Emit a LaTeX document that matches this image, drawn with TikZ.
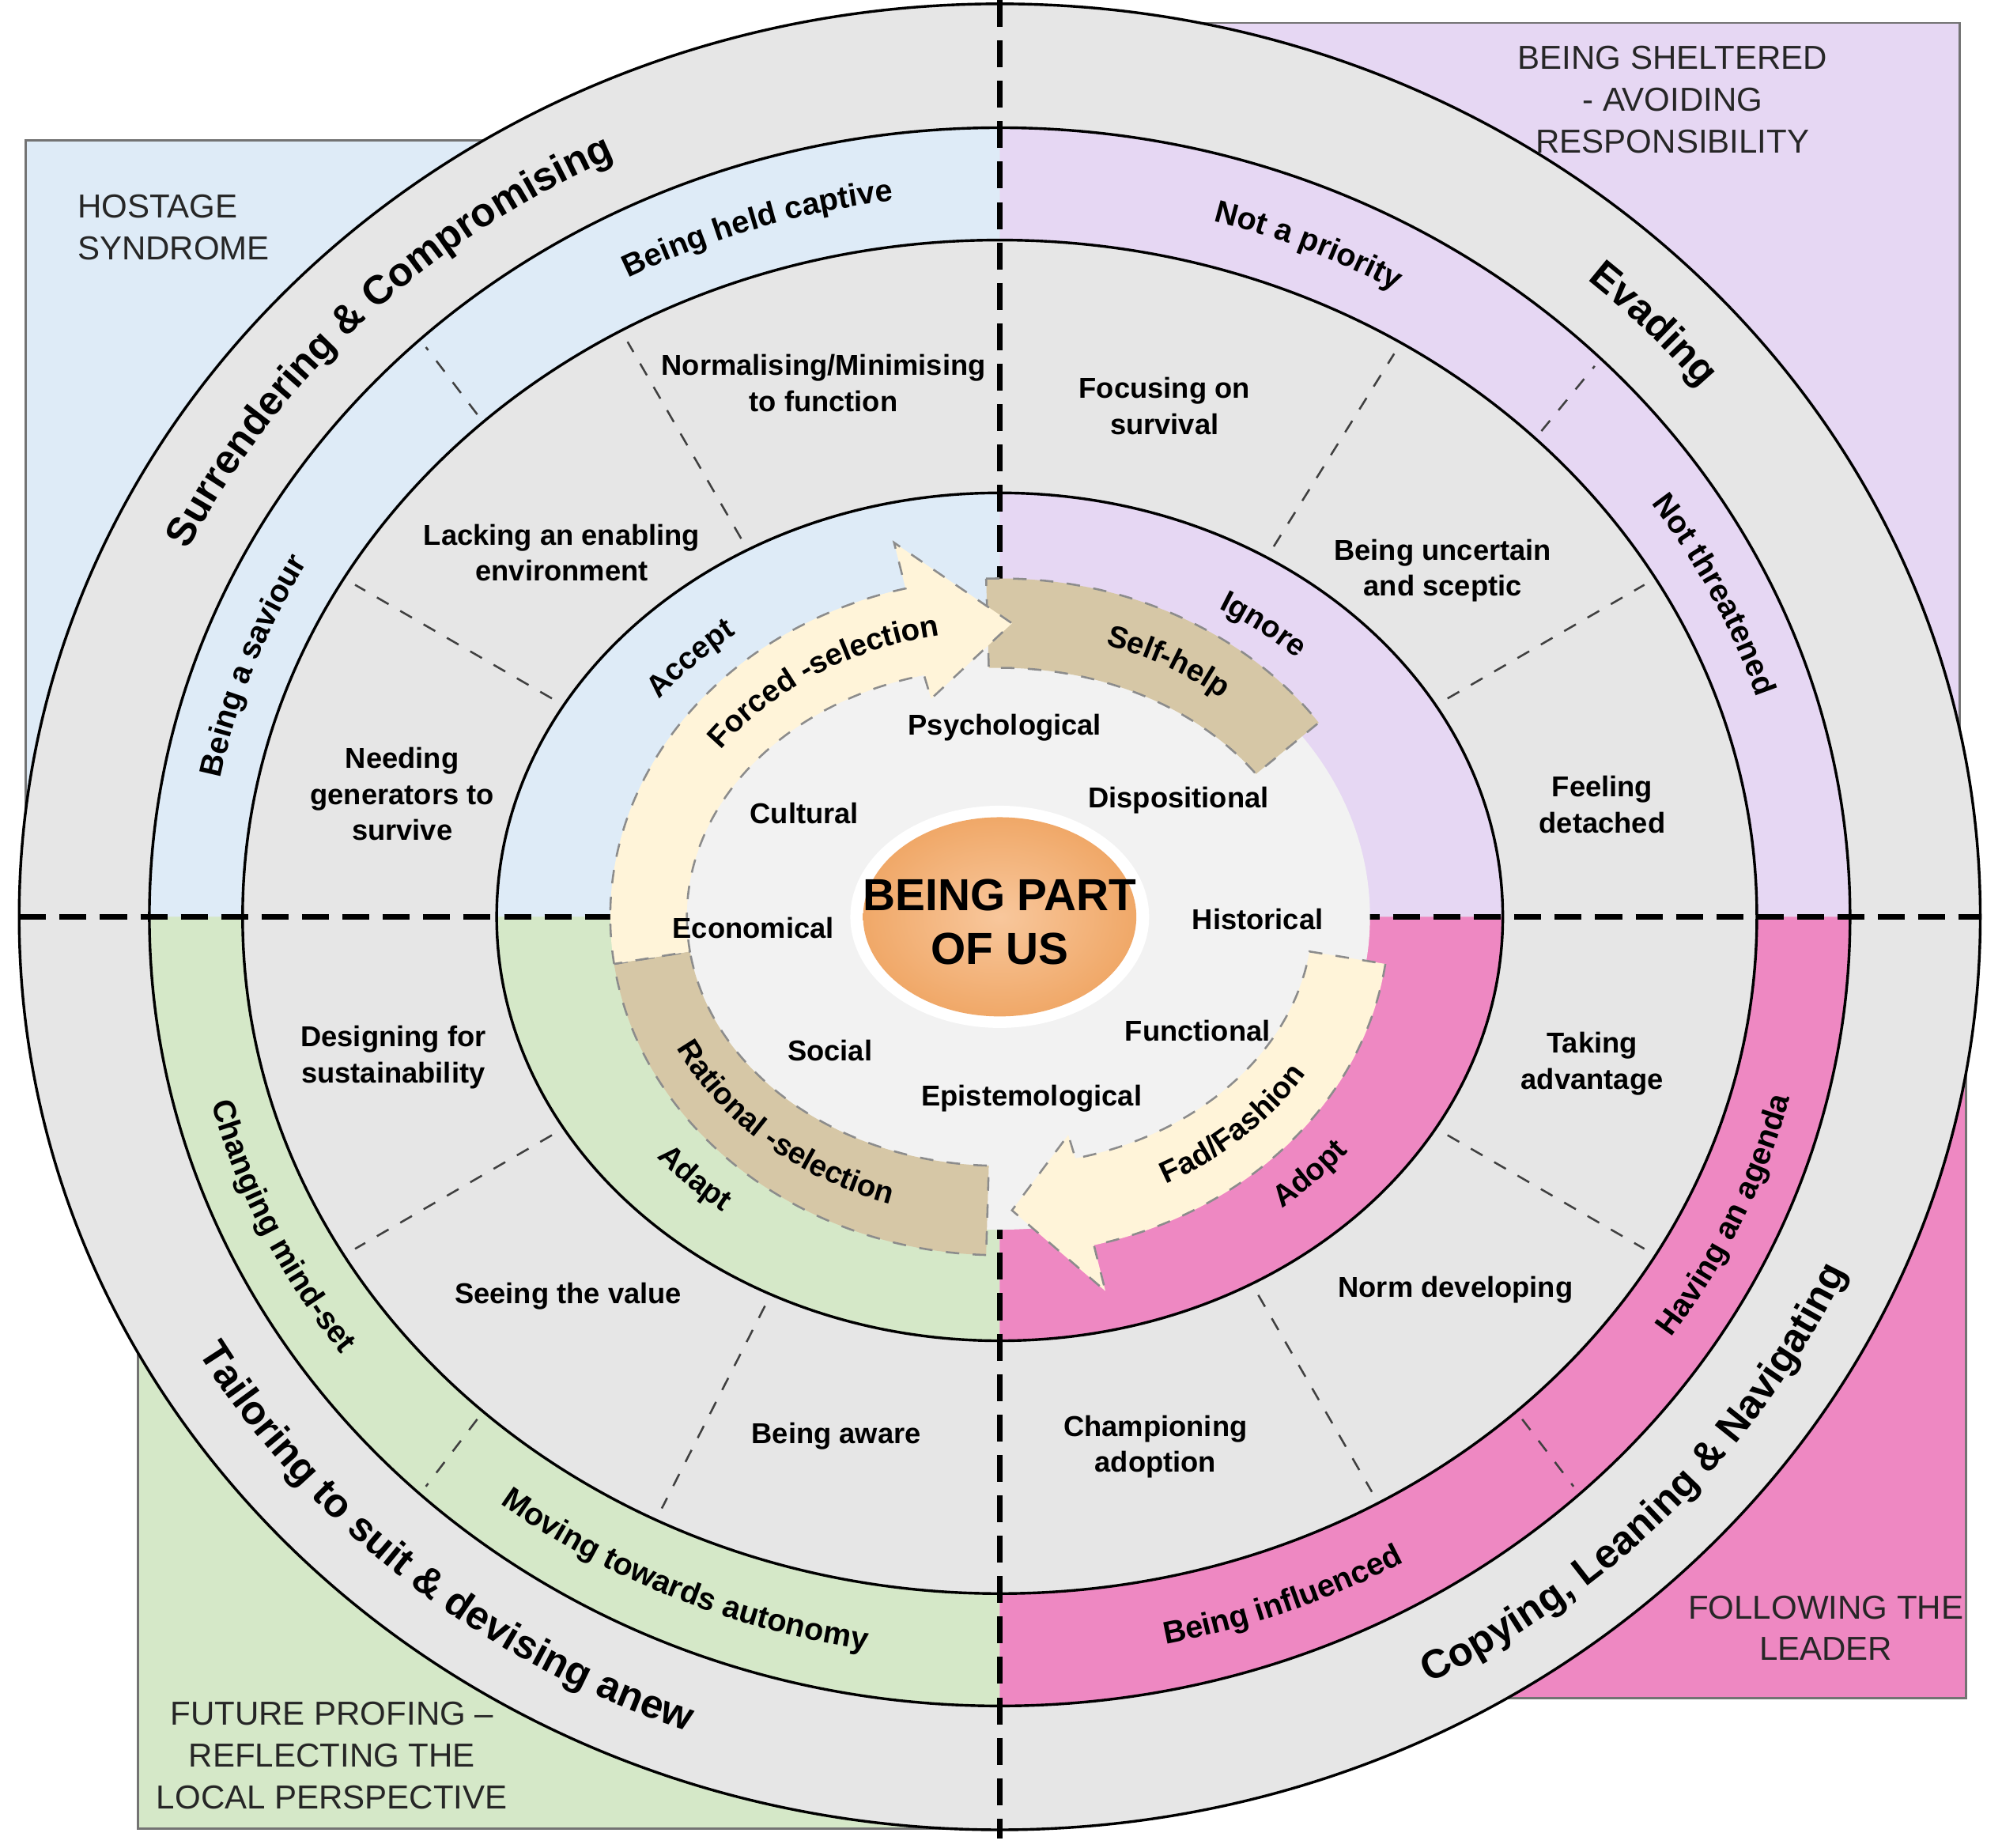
\documentclass[tikz,border=0pt]{standalone}
\usepackage{fontspec}
\setmainfont{Liberation Sans}
\usetikzlibrary{decorations.text}
\definecolor{qblue}{HTML}{DEEBF7}
\definecolor{qpurp}{HTML}{E6D7F3}
\definecolor{qgreen}{HTML}{D5E8C8}
\definecolor{qpink}{HTML}{EE88C2}
\definecolor{qgray}{HTML}{E6E6E6}
\definecolor{qwhite}{HTML}{F2F2F2}
\definecolor{qcream}{HTML}{FFF4D9}
\definecolor{qtan}{HTML}{D6C7A6}
\definecolor{qorange}{HTML}{F8C79C}
\definecolor{qorangeD}{HTML}{F0A868}
\newcommand\fOut{\bfseries\fontsize{9}{11}\selectfont}
\newcommand\fMid{\bfseries\fontsize{7}{8}\selectfont}
\newcommand\fIn{\bfseries\fontsize{6.8}{8}\selectfont}
\newcommand\mytop[5]{\path[decorate,decoration={text along path,text align=center,text={#5}}] ({#1*cos(#3+#4)},{#2*sin(#3+#4)}) arc[start angle={#3+#4},end angle={#3-#4},x radius=#1,y radius=#2];}
\newcommand\mybot[5]{\path[decorate,decoration={text along path,text align=center,text={#5}}] ({#1*cos(#3-#4)},{#2*sin(#3-#4)}) arc[start angle={#3-#4},end angle={#3+#4},x radius=#1,y radius=#2];}
\newcommand\rad[5]{\draw[raddash] ({#1*cos(#5)},{#2*sin(#5)}) -- ({#3*cos(#5)},{#4*sin(#5)});}
\newcommand\qfill[4]{\fill[#1] (0,0) -- ({#2*cos(#4)},{#3*sin(#4)}) arc[start angle=#4,end angle={#4+90},x radius=#2,y radius=#3] -- cycle;}
\tikzset{
  raddash/.style={dashed,line width=0.45pt,black!75},
  ring/.style={line width=0.6pt,black},
  axis/.style={line width=1.3pt,dash pattern=on 6pt off 3pt,black},
  rect/.style={draw=black!55,line width=0.5pt},
  txt/.style={font=\bfseries\fontsize{6.4}{8}\selectfont,align=center,inner sep=0pt},
  rlab/.style={font=\fontsize{7.4}{9.3}\selectfont,align=center,inner sep=0pt,text=black!85},
  band/.style={draw=black!45,dashed,line width=0.45pt}
}
\begin{document}
\begin{tikzpicture}[x=0.01cm,y=0.01cm]
\useasboundingbox (0,0) rectangle (1568,1447);
\fill[white] (0,0) rectangle (1568,1447);
\filldraw[rect,fill=qblue] (20,729) rectangle (783,1337);
\filldraw[rect,fill=qpurp] (783,729) rectangle (1535,1429);
\filldraw[rect,fill=qpink] (783,117) rectangle (1540,729);
\filldraw[rect,fill=qgreen] (108,15) rectangle (783,729);
\begin{scope}[shift={(783,729)}]
  \fill[qgray] (0,0) ellipse[x radius=768,y radius=715];
  \qfill{qpurp}{666}{618}{0}
  \qfill{qblue}{666}{618}{90}
  \qfill{qgreen}{666}{618}{180}
  \qfill{qpink}{666}{618}{270}
  \fill[qgray] (0,0) ellipse[x radius=593,y radius=530];
  \qfill{qpurp}{394}{332}{0}
  \qfill{qblue}{394}{332}{90}
  \qfill{qgreen}{394}{332}{180}
  \qfill{qpink}{394}{332}{270}
  \draw[ring] (0,0) ellipse[x radius=768,y radius=715];
  \draw[ring] (0,0) ellipse[x radius=666,y radius=618];
  \draw[ring] (0,0) ellipse[x radius=593,y radius=530];
  \draw[ring] (0,0) ellipse[x radius=394,y radius=332];
  \coordinate (vt) at (0,718);
  \coordinate (vb) at (0,-722);
  \coordinate (hl) at (-768,0);
  \coordinate (hr) at (769,0);
  \draw[axis] (vt) -- (vb);
  \draw[axis] (hl) -- (hr);
  \fill[qwhite] (0,0) ellipse[x radius=290,y radius=245];
  \rad{405}{342}{583}{520}{120}
  \rad{405}{342}{583}{520}{150}
  \rad{600}{538}{659}{610}{133}
  \rad{405}{342}{583}{520}{58}
  \rad{405}{342}{583}{520}{30}
  \rad{600}{538}{659}{610}{45}
  \rad{405}{342}{583}{520}{-30}
  \rad{405}{342}{583}{520}{-60}
  \rad{600}{538}{659}{610}{-47}
  \rad{405}{342}{583}{520}{210}
  \rad{405}{342}{583}{520}{243}
  \rad{600}{538}{659}{610}{227}
  \filldraw[band,fill=qtan] ({305*cos(92)},{265*sin(92)}) arc[start angle=92,end angle=35,x radius=305,y radius=265] -- ({245*cos(35)},{195*sin(35)}) arc[start angle=35,end angle=92,x radius=245,y radius=195] -- cycle;
  \filldraw[band,fill=qtan] ({305*cos(268)},{265*sin(268)}) arc[start angle=268,end angle=188,x radius=305,y radius=265] -- ({245*cos(188)},{195*sin(188)}) arc[start angle=188,end angle=268,x radius=245,y radius=195] -- cycle;
  \filldraw[band,fill=qcream] ({305*cos(188)},{265*sin(188)}) arc[start angle=188,end angle=104,x radius=305,y radius=265] -- ({342*cos(104)},{302*sin(104)}) -- ({275*cos(88)},{230*sin(88)}) -- ({222*cos(104)},{176*sin(104)}) -- ({245*cos(104)},{195*sin(104)}) arc[start angle=104,end angle=188,x radius=245,y radius=195] -- cycle;
  \filldraw[band,fill=qcream] ({305*cos(-8)},{265*sin(-8)}) arc[start angle=-8,end angle=-76,x radius=305,y radius=265] -- ({342*cos(-76)},{302*sin(-76)}) -- ({275*cos(-88)},{230*sin(-88)}) -- ({222*cos(-76)},{176*sin(-76)}) -- ({245*cos(-76)},{195*sin(-76)}) arc[start angle=-76,end angle=-8,x radius=245,y radius=195] -- cycle;
  \fill[white] (0,0) ellipse[x radius=117,y radius=87];
  \shade[inner color=qorange,outer color=qorangeD] (0,0) ellipse[x radius=107,y radius=78];
  \node[font=\bfseries\fontsize{10}{12}\selectfont,align=center,inner sep=0pt] (core) at (0,-4) {BEING PART\\OF US};
  \mytop{707}{657}{135}{32}{|\fOut|Surrendering {\&} Compromising}
  \mytop{707}{657}{44}{20}{|\fOut|Evading}
  \mybot{727}{677}{317}{32}{|\fOut|Copying, Leaning {\&} Navigating}
  \mybot{727}{677}{230}{32}{|\fOut|Tailoring to suit {\&} devising anew}
  \mytop{622}{566}{108}{25}{|\fMid|Being held captive}
  \mytop{622}{566}{160}{22}{|\fMid|Being a saviour}
  \mytop{622}{566}{67}{22}{|\fMid|Not a priority}
  \mytop{622}{566}{26}{22}{|\fMid|Not threatened}
  \mybot{638}{582}{336}{25}{|\fMid|Having an agenda}
  \mybot{638}{582}{291}{25}{|\fMid|Being influenced}
  \mybot{638}{582}{246}{30}{|\fMid|Moving towards autonomy}
  \mybot{638}{582}{205}{25}{|\fMid|Changing mind-set}
  \mytop{335}{281}{136}{22}{|\fIn|Accept}
  \mytop{335}{281}{52}{22}{|\fIn|Ignore}
  \mybot{349}{295}{316}{22}{|\fIn|Adopt}
  \mybot{349}{295}{225}{22}{|\fIn|Adapt}
  \mytop{269}{224}{123}{35}{|\fIn|Forced -selection}
  \mytop{269}{224}{60}{30}{|\fIn|Self-help}
  \mybot{281}{236}{314}{30}{|\fIn|Fad/Fashion}
  \mybot{281}{236}{228}{38}{|\fIn|Rational -selection}
\end{scope}
\begin{scope}[shift={(0,1447)},yscale=-1]
  \node[rlab,align=left,anchor=west] (r1) at (60,178) {HOSTAGE\\SYNDROME};
  \node[rlab] (r2) at (1310,78) {BEING SHELTERED\\- AVOIDING\\RESPONSIBILITY};
  \node[rlab] (r3) at (1430,1275) {FOLLOWING THE\\LEADER};
  \node[rlab] (r4) at (260,1375) {FUTURE PROFING --\\REFLECTING THE\\LOCAL PERSPECTIVE};
  \node[txt] (g1) at (645,300) {Normalising/Minimising\\to function};
  \node[txt] (g2) at (440,433) {Lacking an enabling\\environment};
  \node[txt] (g3) at (315,622) {Needing\\generators to\\survive};
  \node[txt] (g4) at (912,318) {Focusing on\\survival};
  \node[txt] (g5) at (1130,447) {Being uncertain\\and sceptic};
  \node[txt] (g6) at (1255,630) {Feeling\\detached};
  \node[txt] (g7) at (1247,833) {Taking\\advantage};
  \node[txt] (g8) at (1140,1010) {Norm developing};
  \node[txt] (g9) at (905,1133) {Championing\\adoption};
  \node[txt] (g10) at (655,1125) {Being aware};
  \node[txt] (g11) at (445,1015) {Seeing the value};
  \node[txt] (g12) at (308,828) {Designing for\\sustainability};
  \node[txt] (c1) at (787,570) {Psychological};
  \node[txt] (c2) at (923,627) {Dispositional};
  \node[txt] (c3) at (985,720) {Historical};
  \node[txt] (c4) at (938,807) {Functional};
  \node[txt] (c5) at (808,860) {Epistemological};
  \node[txt] (c6) at (650,823) {Social};
  \node[txt] (c7) at (590,727) {Economical};
  \node[txt] (c8) at (630,637) {Cultural};
\end{scope}
\end{tikzpicture}
\end{document}
